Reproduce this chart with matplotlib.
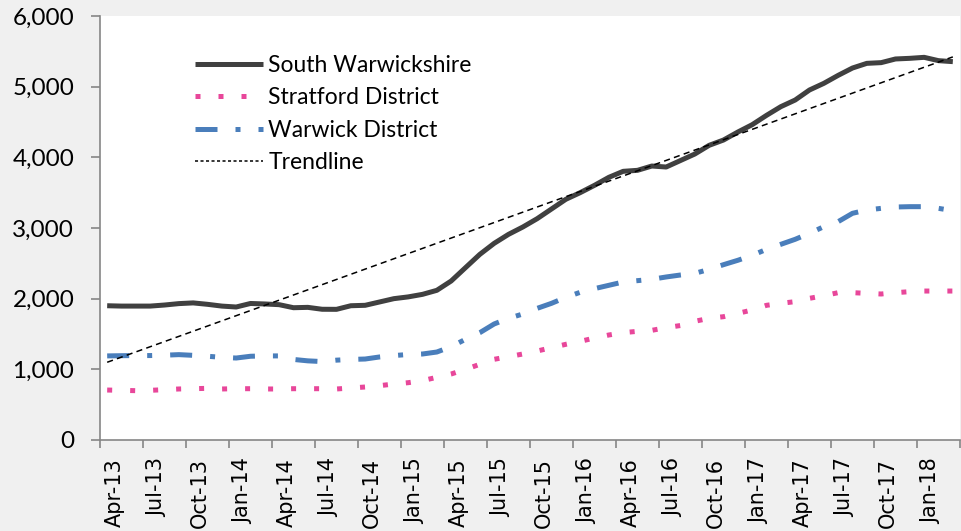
import numpy as np
import pandas as pd
import matplotlib
matplotlib.use('Agg')
import matplotlib.pyplot as plt
from matplotlib.lines import Line2D
from matplotlib.ticker import FuncFormatter

# monthly figures, Apr-13 .. Mar-18
months = pd.date_range('2013-04-01', periods=60, freq='MS').strftime('%b-%y').tolist()

south = [1900, 1895, 1895, 1895, 1910, 1930, 1940, 1920, 1895, 1882,
         1932, 1925, 1915, 1872, 1877, 1850, 1849, 1900, 1906, 1953,
         2000, 2025, 2061, 2118, 2250, 2439, 2627, 2783, 2910, 3014,
         3132, 3269, 3406, 3500, 3604, 3717, 3802, 3816, 3877, 3863,
         3955, 4047, 4170, 4245, 4358, 4462, 4594, 4717, 4811, 4953,
         5047, 5160, 5264, 5330, 5340, 5392, 5401, 5415, 5368, 5354]

stratford = [707, 703, 698, 703, 712, 722, 726, 731, 722, 726,
             726, 722, 722, 726, 726, 726, 722, 736, 750, 769,
             792, 811, 840, 887, 934, 1000, 1071, 1142, 1179, 1217,
             1259, 1307, 1354, 1396, 1443, 1486, 1519, 1538, 1552, 1590,
             1620, 1680, 1722, 1745, 1792, 1840, 1906, 1934, 1958, 2005,
             2042, 2085, 2085, 2075, 2066, 2085, 2099, 2108, 2108, 2108]

warwick = [1190, 1193, 1195, 1195, 1200, 1208, 1198, 1185, 1170, 1160,
           1185, 1190, 1190, 1140, 1120, 1110, 1130, 1140, 1146, 1175,
           1195, 1210, 1217, 1245, 1321, 1425, 1519, 1642, 1722, 1783,
           1863, 1934, 2019, 2090, 2142, 2189, 2236, 2255, 2274, 2307,
           2335, 2358, 2415, 2481, 2543, 2613, 2698, 2769, 2840, 2925,
           3019, 3090, 3208, 3255, 3278, 3297, 3302, 3302, 3278, 3245]

x = np.arange(len(months))
grey = '#868686'

fig = plt.figure(figsize=(9.61, 5.31), dpi=100, facecolor='#f0f0f0')
ax = fig.add_axes([100/961, 91/531, 860/961, 424/531])
ax.set_facecolor('white')

l1, = ax.plot(x, south, color='#404040', lw=3.6, solid_capstyle='butt',
              solid_joinstyle='round')
l2, = ax.plot(x, stratford, color='#e8479a', lw=3.6, dashes=(1, 3.6),
              dash_capstyle='butt')
l3, = ax.plot(x, warwick, color='#4a7ebb', lw=3.6, dashes=(4.4, 3.6, 1, 3.6),
              dash_capstyle='butt')

# linear trendline of South Warwickshire
coef = np.polyfit(x, south, 1)
ax.plot(x, np.polyval(coef, x), color='black', lw=1.1, dashes=(4, 2.8))

ax.set_xlim(-0.5, len(months) - 0.5)
ax.set_ylim(0, 6000)

for s in ['top', 'right']:
    ax.spines[s].set_visible(False)
for s in ['left', 'bottom']:
    ax.spines[s].set_color(grey)
    ax.spines[s].set_linewidth(1.2)

ax.set_yticks(range(0, 6001, 1000))
ax.yaxis.set_major_formatter(FuncFormatter(lambda v, p: f'{v:,.0f}'))
ax.tick_params(axis='y', length=6.5, width=1.2, color=grey, pad=12,
               labelsize=17.5, labelfontfamily='Lato')

ax.set_xticks(x[::3] + 0.5)
ax.set_xticklabels(months[::3], rotation=90, fontsize=15, family='DejaVu Sans')
ax.set_xticks(np.arange(-0.5, len(months), 3), minor=True)
ax.tick_params(axis='x', which='major', length=0, pad=13)
ax.tick_params(axis='x', which='minor', length=6, width=1.2, color=grey)

proxy = Line2D([], [], color='black', lw=1.1, dashes=(2, 1.6))
ax.legend([l1, l2, l3, proxy],
          ['South Warwickshire', 'Stratford District', 'Warwick District', 'Trendline'],
          loc='upper left', bbox_to_anchor=(195/961, 1 - 55/531),
          bbox_transform=fig.transFigure, frameon=False,
          prop={'family': 'Lato', 'size': 16.5}, handlelength=2.95,
          handletextpad=0.25, labelspacing=0.5, borderpad=0, borderaxespad=0)

fig.savefig('out.png', dpi=100, facecolor=fig.get_facecolor())
